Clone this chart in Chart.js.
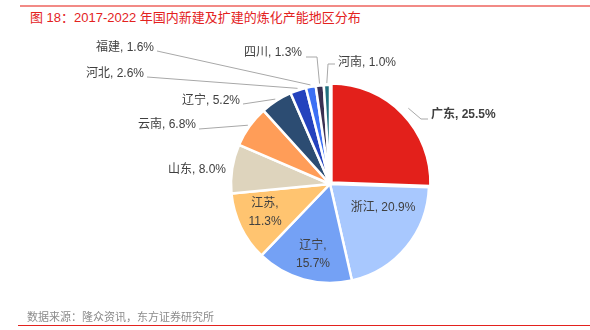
<!DOCTYPE html>
<html>
<head>
<meta charset="utf-8">
<script src="https://cdn.jsdelivr.net/npm/chart.js@4.4.1/dist/chart.umd.min.js"></script>
<style>
  html, body { margin: 0; padding: 0; background: #fff; }
  #wrap { position: relative; width: 590px; height: 330px; overflow: hidden;
    font-family: "Liberation Sans", "Noto Sans CJK SC", sans-serif; }
  #topLine { position: absolute; left: 20px; top: 5px; width: 570px; height: 2px; background: #F28A86; }
  #title { position: absolute; left: 30px; top: 9px; font-size: 13px; line-height: 18px; color: #E3221E; white-space: nowrap; }
  #source { position: absolute; left: 27px; top: 310px; font-size: 11px; line-height: 15px; color: #8C8C8C; white-space: nowrap; }
  #bottomLine { position: absolute; left: 18px; top: 325px; width: 572px; height: 1px; background: #E3221E; }
  #chart { position: absolute; left: 0; top: 0; }
</style>
</head>
<body>
<div id="wrap">
  <div id="topLine"></div>
  <div id="title">图 18：2017-2022 年国内新建及扩建的炼化产能地区分布</div>
  <canvas id="chart" width="590" height="330"></canvas>
  <div id="source">数据来源：隆众资讯，东方证券研究所</div>
  <div id="bottomLine"></div>
</div>
<script>
const regions = ['广东', '浙江', '辽宁', '江苏', '山东', '云南', '辽宁', '河北', '福建', '四川', '河南'];
const shares = [25.5, 20.9, 15.7, 11.3, 8.0, 6.8, 5.2, 2.6, 1.6, 1.3, 1.0];
const sliceColors = ['#E3201B', '#A8C8FE', '#74A1F5', '#FFC470', '#DED4BD', '#FF9D58',
  '#2C4C72', '#2442BD', '#3C70F4', '#3A3052', '#206F7E'];

// where each label goes (text anchor + optional leader-line bends)
const labelLayout = [
  { x: 431, y: 115, align: 'left', bold: true, path: [[421, 119], [428, 119]] },
  { x: 383, y: 208, align: 'center' },
  { x: 313, y: 246, align: 'center', twoLines: true },
  { x: 265, y: 204, align: 'center', twoLines: true },
  { x: 226, y: 170, align: 'right' },
  { x: 196, y: 125, align: 'right', path: [[199, 129]] },
  { x: 240, y: 101, align: 'right', path: [[243, 104]] },
  { x: 144, y: 74, align: 'right', path: [[147, 77]] },
  { x: 154, y: 48, align: 'right', path: [[157, 51]] },
  { x: 302, y: 53, align: 'right', path: [[317, 57], [306, 57]] },
  { x: 338, y: 63, align: 'left', path: [[328, 64], [335, 64]] }
];

const pieLabels = {
  id: 'pieLabels',
  afterDatasetsDraw(chart) {
    const ctx = chart.ctx;
    const meta = chart.getDatasetMeta(0);
    ctx.save();
    meta.data.forEach((arc, i) => {
      const lay = labelLayout[i];
      const p = arc.getProps(['x', 'y', 'startAngle', 'endAngle', 'outerRadius'], true);
      const off = arc.options.offset || 0;
      const mid = (p.startAngle + p.endAngle) / 2;
      if (lay.path) {
        const r = p.outerRadius + off + 2;
        ctx.beginPath();
        ctx.moveTo(p.x + Math.cos(mid) * r, p.y + Math.sin(mid) * r);
        lay.path.forEach(pt => ctx.lineTo(pt[0], pt[1]));
        ctx.strokeStyle = '#A8A8A8';
        ctx.lineWidth = 1;
        ctx.stroke();
      }
      const val = shares[i].toFixed(1) + '%';
      ctx.fillStyle = '#404040';
      ctx.font = (lay.bold ? 'bold ' : '') + '12px "Liberation Sans", "Noto Sans CJK SC", sans-serif';
      ctx.textAlign = lay.align;
      ctx.textBaseline = 'middle';
      if (lay.twoLines) {
        ctx.fillText(regions[i] + ',', lay.x, lay.y);
        ctx.fillText(val, lay.x, lay.y + 18);
      } else {
        ctx.fillText(regions[i] + ', ' + val, lay.x, lay.y);
      }
    });
    ctx.restore();
  }
};

new Chart(document.getElementById('chart'), {
  type: 'pie',
  data: {
    labels: regions,
    datasets: [{
      data: shares,
      backgroundColor: sliceColors,
      borderColor: '#ffffff',
      borderWidth: 2.5,
      offset: shares.map((v, i) => i === 0 ? 8 : 0)
    }]
  },
  options: {
    responsive: false,
    animation: false,
    devicePixelRatio: 1,
    radius: 99,
    layout: { padding: { left: 230, right: 160, top: 80, bottom: 42 } },
    plugins: { legend: { display: false }, tooltip: { enabled: false } }
  },
  plugins: [pieLabels]
});
</script>
</body>
</html>
